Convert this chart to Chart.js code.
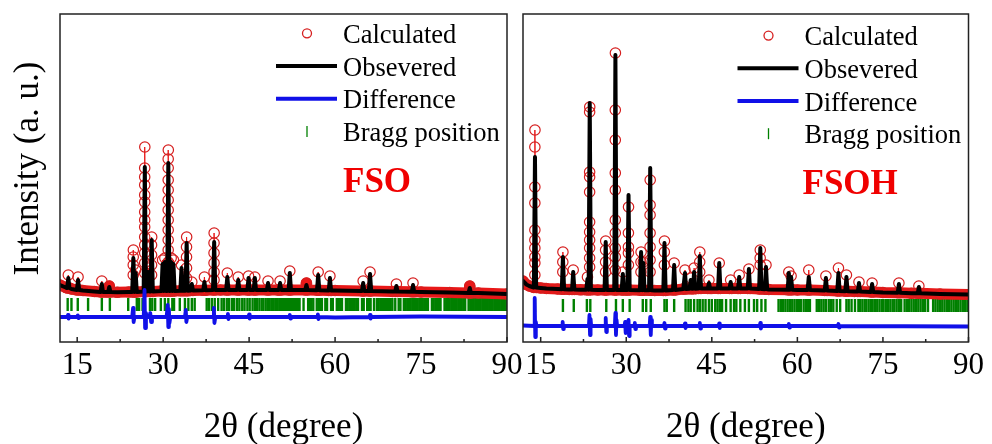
<!DOCTYPE html>
<html>
<head>
<meta charset="utf-8">
<script src="https://cdn.jsdelivr.net/npm/chart.js@4.4.0/dist/chart.umd.min.js"></script>
<style>
html,body{margin:0;padding:0;background:#fff;}
#wrap{position:relative;width:992px;height:444px;overflow:hidden;}
#wrap canvas{position:absolute;left:0;top:0;}
</style>
</head>
<body>
<div id="wrap">
  <canvas id="fso" width="992" height="444"></canvas>
  <canvas id="fsoh" width="992" height="444"></canvas>
</div>
<script>
// ---------------- DATA ----------------
const xTickValues = [15, 30, 45, 60, 75, 90];
const xTickLabels = ['15', '30', '45', '60', '75', '90'];
const xMinorTicks = [22.5, 37.5, 52.5, 67.5, 82.5];

const seriesLabels = ['Calculated', 'Obsevered', 'Difference', 'Bragg position'];
const yAxisTitle = 'Intensity (a. u.)';
const xAxisTitle = '2θ (degree)';

// ---- FSO ----
const fsoBgTheta = [12, 13, 14, 16, 18, 20, 22, 24, 27, 30, 35, 40, 45, 50, 55, 60, 65, 70, 75, 80, 85, 90];
const fsoBgObs   = [570, 545, 530, 515, 505, 500, 497, 500, 505, 510, 515, 520, 520, 520, 520, 515, 510, 505, 500, 495, 490, 480];
const fsoPeakTheta = [13.45, 15.15, 19.3, 20.6, 24.8, 25.2, 26.8, 27.4, 28.0, 29.9, 30.3, 30.9, 31.4, 31.8, 33.2, 34.1, 35.0, 37.2, 38.9, 41.2, 43.1, 44.9, 46.0, 48.3, 50.4, 52.1, 55.0, 57.05, 59.1, 64.9, 66.1, 70.7, 73.6, 83.5];
const fsoPeakObs   = [640, 620, 580, 550, 840, 690, 1750, 700, 1020, 780, 800, 1790, 800, 780, 740, 990, 580, 600, 1000, 650, 620, 640, 640, 590, 590, 690, 570, 670, 640, 590, 680, 560, 570, 540];
const fsoPeakCalc  = [670, 650, 610, 560, 920, 720, 1950, 740, 1050, 820, 840, 1920, 840, 820, 770, 1050, 600, 650, 1090, 690, 650, 660, 650, 610, 610, 710, 590, 700, 660, 610, 700, 580, 590, 560];
const fsoPeakFoot  = [540, 520, 500, 500, 500, 500, 505, 505, 505, 510, 510, 510, 510, 510, 512, 512, 515, 517, 520, 520, 520, 520, 520, 520, 520, 520, 520, 518, 515, 510, 510, 505, 502, 490];
const fsoFlankTheta = [24.8, 26.8, 28.0, 30.9, 34.1, 38.9];
const fsoFlankCalc = [
  [670, 770, 850],
  [690, 790, 890, 970, 1050, 1150, 1220, 1300, 1400, 1470, 1570, 1650, 1740],
  [670, 770, 870, 970],
  [700, 800, 920, 1020, 1120, 1220, 1320, 1420, 1520, 1620, 1740, 1830],
  [640, 740, 850, 950],
  [620, 700, 790, 890, 990]
];
const fsoDiffTheta = [12, 13.3, 13.4, 13.5, 13.6, 15.0, 15.1, 15.2, 15.3, 24.6, 24.75, 24.85, 25.0,
  26.6, 26.75, 26.85, 27.0, 27.1, 27.6, 27.75, 27.9, 28.05, 30.6, 30.8, 30.9, 31.0, 31.1, 31.25,
  33.8, 33.95, 34.05, 34.2, 38.7, 38.85, 38.95, 39.1, 41.2, 41.3, 41.4, 41.5, 44.9, 45.0, 45.1, 45.2,
  52.0, 52.1, 52.2, 52.3, 56.9, 57.0, 57.1, 57.2, 60, 66.0, 66.1, 66.2, 66.3, 75, 90];
const fsoDiff = [250, 250, 270, 235, 250, 250, 265, 240, 250, 250, 340, 200, 250,
  250, 520, 140, 290, 250, 250, 290, 200, 250, 250, 370, 150, 330, 190, 250,
  250, 320, 200, 250, 250, 340, 190, 250, 250, 280, 230, 250, 250, 275, 235, 250,
  250, 270, 235, 250, 250, 275, 230, 250, 245, 250, 270, 235, 250, 255, 250];
const fsoBragg = [13.34, 14.0, 15.1, 16.9, 19.3, 20.7, 23.9, 25.4, 25.8, 26.4, 27.7, 28.1, 28.6, 29.6, 30.3, 30.9, 31.6, 31.9, 32.9, 33.8, 34.4, 35.0, 35.5, 37.6, 38.0, 38.5, 39.0, 39.6,
  40.2, 40.6, 41.1, 41.5, 42.0, 42.4, 42.9, 43.3, 43.8, 44.2, 44.7, 45.1, 45.6, 46.0, 46.4, 46.8, 47.2, 47.5, 47.9, 48.3, 48.6, 49.0, 49.3, 49.7, 50.0, 50.4, 50.7, 51.1, 51.4, 51.8, 52.1, 52.5, 52.8, 53.2, 53.5, 53.8,
  54.5, 55.3, 55.6, 55.9, 56.2, 56.8, 57.1, 57.4, 57.7, 58.3, 58.6, 59.3, 59.6, 60.3, 60.6, 60.9, 61.2, 61.9, 62.2, 62.5, 62.8, 63.1, 63.4, 63.7, 64.0,
  64.7, 65.0, 65.6, 65.9, 66.2, 66.8, 67.3, 67.6, 67.9, 68.2, 68.5, 68.8, 69.1, 69.4, 69.7, 70.0, 70.5, 71.1, 71.4, 72.0, 72.3, 72.6, 72.9, 73.2, 73.5, 73.8, 74.1, 74.4, 74.7, 75.0, 75.3, 75.6, 75.9, 76.2,
  76.9, 77.2, 77.5, 77.8, 78.1, 78.4, 79.1, 79.4, 79.7, 80.0, 80.3, 80.6, 80.9, 81.2, 81.5, 81.8, 82.1, 82.4, 82.7, 83.3, 83.6, 83.9, 84.2, 84.5, 84.8, 85.1, 85.4, 85.7, 86.0, 86.3, 86.6, 86.9, 87.2, 87.5, 87.8, 88.1, 88.4, 88.7, 89.0, 89.3, 89.6, 89.9];

// ---- FSOH ----
const fsohBgTheta = [11.9, 12.5, 13, 15, 16, 18, 20, 22, 25, 30, 35, 40, 45, 50, 55, 60, 65, 70, 75, 80, 85, 90];
const fsohBgObs   = [610, 575, 560, 540, 535, 530, 525, 522, 520, 520, 515, 530, 535, 535, 525, 520, 515, 505, 495, 487, 480, 475];
const fsohPeakTheta = [14.0, 18.9, 20.7, 23.2, 23.6, 26.4, 28.1, 29.4, 30.4, 32.6, 33.0, 34.2, 36.7, 38.4, 40.3, 41.3, 41.9, 42.9, 44.5, 46.3, 48.3, 49.8, 51.5, 53.5, 54.5, 58.5, 58.9, 62.0, 65.0, 67.2, 68.6, 70.8, 73.1, 77.8, 81.3];
const fsohPeakObs   = [1850, 850, 700, 630, 2390, 1000, 2870, 680, 1470, 900, 790, 1740, 990, 770, 690, 620, 700, 860, 590, 790, 600, 650, 730, 940, 750, 690, 650, 650, 640, 690, 650, 590, 580, 580, 550];
const fsohPeakCalc  = [2120, 900, 720, 650, 2350, 1010, 2890, 700, 1350, 900, 800, 1620, 1010, 790, 720, 640, 740, 900, 620, 790, 620, 670, 730, 920, 770, 700, 660, 720, 660, 740, 670, 600, 590, 590, 560];
const fsohPeakFoot  = [545, 528, 525, 522, 522, 520, 520, 520, 520, 518, 518, 517, 515, 520, 530, 532, 533, 535, 535, 535, 535, 535, 535, 530, 528, 522, 522, 520, 515, 510, 508, 505, 500, 493, 487];
const fsohFlankTheta = [14.0, 18.9, 23.6, 26.4, 28.1, 30.4, 32.6, 34.2, 36.7, 42.9, 53.5];
const fsohFlankCalc = [
  [670, 790, 850, 940, 1020, 1120, 1390, 1550, 1950],
  [700, 800],
  [750, 840, 940, 1020, 1100, 1200, 1500, 1650, 1700, 2300],
  [700, 800, 920],
  [720, 850, 940, 1090, 1220, 1520, 1690, 2020, 2320],
  [770, 890, 950, 1090],
  [700, 800],
  [700, 820, 950, 1090, 1270, 1370],
  [770, 900],
  [700, 800],
  [770, 840]
];
const fsohDiffTheta = [11.9, 13.85, 13.95, 14.05, 14.15, 14.25, 18.75, 18.85, 18.95, 19.05,
  23.45, 23.55, 23.65, 23.75, 23.85, 26.3, 26.4, 26.5, 26.6, 28.0, 28.1, 28.2, 28.3, 28.4,
  29.7, 29.8, 29.9, 30.0, 30.3, 30.4, 30.5, 30.6, 31.4, 31.5, 31.6, 31.7,
  34.1, 34.2, 34.3, 34.4, 34.5, 36.6, 36.7, 36.8, 36.9, 40.2, 40.3, 40.4, 40.5,
  42.8, 42.9, 43.0, 43.1, 46.2, 46.3, 46.4, 46.5, 53.4, 53.5, 53.6, 53.7,
  58.4, 58.5, 58.6, 58.7, 67.1, 67.2, 67.3, 67.4, 90];
const fsohDiff = [165, 160, 440, 50, 200, 160, 160, 200, 130, 160,
  160, 270, 70, 230, 160, 160, 240, 100, 160, 160, 290, 70, 220, 160,
  160, 200, 90, 160, 160, 220, 60, 160, 160, 190, 130, 160,
  160, 250, 70, 220, 160, 160, 190, 135, 160, 160, 185, 140, 160,
  160, 190, 135, 160, 160, 185, 140, 160, 160, 190, 135, 160,
  160, 180, 145, 160, 160, 180, 145, 160, 155];
const fsohBragg = [14.0, 18.9, 20.8, 23.1, 23.7, 26.5, 28.2, 29.4, 30.6, 32.9, 33.5, 34.3, 36.7, 37.1, 38.4, 40.4, 40.9, 41.3, 41.9, 42.5, 42.9, 43.4, 43.9, 44.5, 45.0, 45.6, 46.0, 46.4, 46.8, 47.5, 48.3, 48.9, 49.3, 50.0, 50.8, 51.5, 52.4, 52.95, 53.7, 54.4,
  56.7, 57.1, 57.5, 57.9, 58.3, 58.7, 59.1, 59.5, 59.9, 60.3, 60.6, 61.1, 61.5, 61.9, 62.2,
  63.4, 63.8, 64.2, 64.6, 65.0, 65.5, 65.9, 66.3, 66.9, 67.5, 68.6, 69.0, 69.5, 70.1,
  70.7, 71.0, 71.4, 71.8, 72.1, 72.5, 72.9, 73.2, 73.6, 74.0, 74.4, 74.8, 75.1, 75.5, 75.9, 76.3, 76.7, 77.0, 77.4, 77.8, 78.2,
  78.8, 79.2, 79.6, 80.0, 80.4, 80.8, 81.2, 81.6, 82.0, 82.4, 82.9,
  83.8, 84.2, 84.6, 85.0, 85.4, 85.8, 86.2, 86.6, 87.0, 87.4, 87.8, 88.2, 88.6, 89.0, 89.4, 89.8];

// ---------------- STYLE ----------------
const SERIF = "'Liberation Serif', 'Times New Roman', serif";
const C_BAND = 'rgb(232,24,24)';
const C_CIRCLE = 'rgb(214,30,30)';
const C_BLUE = 'rgb(16,16,232)';
const C_GREEN = 'rgb(0,128,0)';
const C_LABEL = 'rgb(240,0,0)';
const PEAK_HALF = 0.2;
const FLANK_SHIFT = 0.02;

function buildProfile(bgT, bgV, pT, pV, pFoot, fT, fV) {
  const pts = [];
  bgT.forEach((t, i) => {
    if (!pT.some(p => Math.abs(p - t) <= PEAK_HALF + 1e-9)) pts.push({x: t, y: bgV[i]});
  });
  pT.forEach((p, i) => {
    pts.push({x: p - PEAK_HALF, y: pFoot[i]});
    const k = fT ? fT.indexOf(p) : -1;
    if (k >= 0) fV[k].forEach(v => pts.push({x: p - FLANK_SHIFT, y: v}));
    pts.push({x: p, y: pV[i]});
    pts.push({x: p + PEAK_HALF, y: pFoot[i]});
  });
  pts.sort((a, b) => a.x - b.x);
  return pts;
}
const pairs = (xs, ys) => xs.map((x, i) => ({x, y: ys[i]}));

const decor = {
  id: 'decor',
  afterDatasetsDraw(chart, args, o) {
    const {ctx, chartArea: a, scales: {x}} = chart;
    ctx.save();
    ctx.strokeStyle = '#222';
    ctx.lineWidth = 1.5;
    ctx.strokeRect(a.left, a.top, a.right - a.left, a.bottom - a.top);
    ctx.beginPath();
    xTickValues.forEach(v => { const px = x.getPixelForValue(v); ctx.moveTo(px, a.bottom); ctx.lineTo(px, a.bottom - 5); });
    xMinorTicks.forEach(v => { const px = x.getPixelForValue(v); ctx.moveTo(px, a.bottom); ctx.lineTo(px, a.bottom - 3); });
    ctx.stroke();
    const ds = chart.data.datasets;
    ctx.font = '26.5px ' + SERIF;
    ctx.textBaseline = 'alphabetic';
    ctx.textAlign = 'left';
    ds.forEach((d, i) => {
      const base = o.legendTop + i * o.rowStep;
      const my = base - 9.7;
      const cx = a.right - 200;
      if (d.legendKind === 'circle') {
        ctx.strokeStyle = d.pointBorderColor; ctx.lineWidth = 1.3;
        ctx.beginPath(); ctx.arc(cx, my, 4.5, 0, Math.PI * 2); ctx.stroke();
      } else if (d.legendKind === 'line') {
        ctx.strokeStyle = d.borderColor; ctx.lineWidth = 4;
        ctx.beginPath(); ctx.moveTo(a.right - 231, my); ctx.lineTo(a.right - 170, my); ctx.stroke();
      } else {
        ctx.strokeStyle = d.pointBorderColor; ctx.lineWidth = 1.3;
        ctx.beginPath(); ctx.moveTo(cx, my - 5.5); ctx.lineTo(cx, my + 5.5); ctx.stroke();
      }
      ctx.fillStyle = '#000';
      ctx.fillText(d.label, a.right - 164, base);
    });
    ctx.font = 'bold 35px ' + SERIF;
    ctx.fillStyle = C_LABEL;
    ctx.fillText(o.sample, a.right - o.sampleDx, o.sampleBase);
    if (o.yTitle) {
      ctx.translate(38, 168.5);
      ctx.rotate(-Math.PI / 2);
      ctx.font = '35px ' + SERIF;
      ctx.fillStyle = '#000';
      ctx.textAlign = 'center';
      ctx.fillText(yAxisTitle, 0, 0);
    }
    ctx.restore();
  }
};

function makePanel(id, d) {
  const obs = buildProfile(d.bgT, d.bgV, d.pT, d.pObs, d.pFoot, null, null);
  const calc = buildProfile(d.bgT, d.bgV, d.pT, d.pCalc, d.pFoot, d.fT, d.fV);
  const diff = pairs(d.diffT, d.diffV);
  const bragg = d.bragg.map(t => ({x: t, y: d.braggLevel}));
  return new Chart(document.getElementById(id), {
    type: 'line',
    data: {
      datasets: [
        {
          label: seriesLabels[0], legendKind: 'circle', data: calc, order: 3,
          borderColor: C_BAND, borderWidth: 11, borderCapStyle: 'round', borderJoinStyle: 'round',
          segment: { borderWidth: c => ((Math.abs(c.p1.x - c.p0.x) > 0.5 && Math.abs(c.p1.y - c.p0.y) <= 7) ? 11 : 1) },
          pointRadius: 5.2, pointStyle: 'circle', pointBorderColor: C_CIRCLE,
          pointBackgroundColor: 'rgba(255,255,255,0)', pointBorderWidth: 1.2, clip: 0
        },
        {
          label: seriesLabels[1], legendKind: 'line', data: obs, order: 2,
          borderColor: '#000', borderWidth: 4, borderJoinStyle: 'round', borderCapStyle: 'round', pointRadius: 0, clip: 0
        },
        {
          label: seriesLabels[2], legendKind: 'line', data: diff, order: 1,
          borderColor: C_BLUE, borderWidth: 3.8, borderJoinStyle: 'round', borderCapStyle: 'round', pointRadius: 0, clip: 0
        },
        {
          label: seriesLabels[3], legendKind: 'tick', data: bragg, order: 4, showLine: false,
          pointStyle: 'line', pointRotation: 90, pointRadius: 6.5,
          pointBorderColor: C_GREEN, pointBorderWidth: 2.4, clip: 0
        }
      ]
    },
    options: {
      responsive: false, animation: false, devicePixelRatio: 1, events: [],
      layout: { padding: { left: d.padLeft, right: d.padRight, top: 14, bottom: 0 } },
      plugins: {
        legend: { display: false }, tooltip: { enabled: false },
        decor: { legendTop: d.legendTop, rowStep: 32.7, sample: d.sample, sampleDx: d.sampleDx, sampleBase: d.sampleBase, yTitle: d.yTitle }
      },
      scales: {
        x: {
          type: 'linear', min: d.xMin, max: 90,
          afterFit: s => { s.height = 102; },
          afterBuildTicks: s => { s.ticks = xTickValues.map(v => ({ value: v })); },
          ticks: {
            color: '#000', padding: 8, maxRotation: 0, minRotation: 0, autoSkip: false,
            font: { family: SERIF, size: 31, lineHeight: 1 },
            callback: (v, i) => xTickLabels[i]
          },
          grid: { display: false, drawTicks: false },
          border: { display: false },
          title: { display: true, text: xAxisTitle, color: '#000', font: { family: SERIF, size: 35, lineHeight: 0.9 }, padding: { top: 0, bottom: 0 } }
        },
        y: { display: false, min: 0, max: 3280 }
      }
    },
    plugins: [decor]
  });
}

makePanel('fso', {
  bgT: fsoBgTheta, bgV: fsoBgObs, pT: fsoPeakTheta, pObs: fsoPeakObs, pCalc: fsoPeakCalc, pFoot: fsoPeakFoot,
  fT: fsoFlankTheta, fV: fsoFlankCalc, diffT: fsoDiffTheta, diffV: fsoDiff, bragg: fsoBragg, braggLevel: 375,
  xMin: 12, padLeft: 60, padRight: 485, legendTop: 43, sample: 'FSO', sampleDx: 164, sampleBase: 191.5, yTitle: true
});
makePanel('fsoh', {
  bgT: fsohBgTheta, bgV: fsohBgObs, pT: fsohPeakTheta, pObs: fsohPeakObs, pCalc: fsohPeakCalc, pFoot: fsohPeakFoot,
  fT: fsohFlankTheta, fV: fsohFlankCalc, diffT: fsohDiffTheta, diffV: fsohDiff, bragg: fsohBragg, braggLevel: 365,
  xMin: 11.9, padLeft: 523, padRight: 21, legendTop: 45.3, sample: 'FSOH', sampleDx: 166, sampleBase: 194, yTitle: false
});
</script>
</body>
</html>
